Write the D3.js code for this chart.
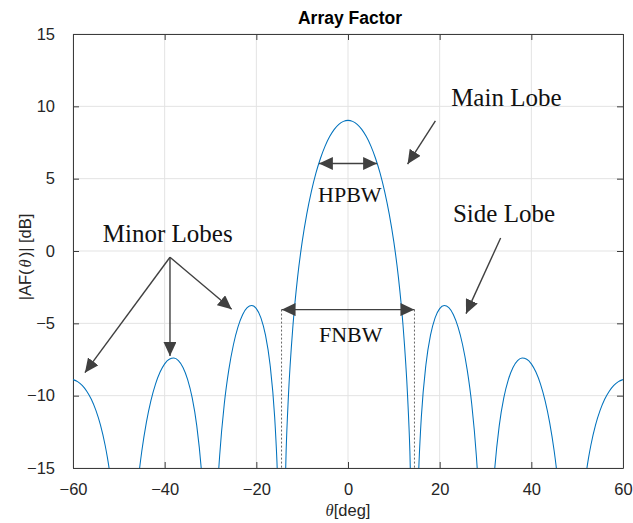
<!DOCTYPE html>
<html>
<head>
<meta charset="utf-8">
<script src="https://cdn.jsdelivr.net/npm/d3@7"></script>
<style>
  html, body { margin: 0; padding: 0; background: #fff; }
  svg { display: block; }
</style>
</head>
<body>
<svg id="chart" width="633" height="523"></svg>
<script>
// Array factor pattern, dB versus steering angle; null marks a pattern null (-inf dB)
const thetaDeg = [
  -60, -59, -58, -57, -56, -55, -54, -53, -52.5, -52, -51, -50, -48.59,
  -47, -46, -45.5, -45, -44, -43, -42, -41, -40, -39, -38, -37, -36, -35, -34, -33, -32, -31.5, -31, -30,
  -29, -28.5, -28, -27, -26, -25, -24, -23, -22, -21, -20, -19, -18, -17, -16, -15.5, -15.4, -14.48,
  -14, -13.5, -13, -12, -11, -10, -9, -8, -7, -6, -5, -4, -3, -2, -1, 0,
  1, 2, 3, 4, 5, 6, 7, 8, 9, 10, 11, 12, 13, 13.5, 14,
  14.48, 15.4, 15.5, 16, 17, 18, 19, 20, 21, 22, 23, 24, 25, 26, 27, 28, 28.5, 29,
  30, 31, 31.5, 32, 33, 34, 35, 36, 37, 38, 39, 40, 41, 42, 43, 44, 45, 45.5, 46, 47,
  48.59, 50, 51, 52, 52.5, 53, 54, 55, 56, 57, 58, 59, 60
];
const afDb = [
  -8.89, -9.03, -9.29, -9.69, -10.25, -11.02, -12.04, -13.41, -14.27, -15.29, -17.99, -22.4, null,
  -20.9, -16.61, -15.11, -13.86, -11.86, -10.34, -9.20, -8.37, -7.80, -7.48, -7.40, -7.58, -8.05, -8.87, -10.14, -12.07, -15.11, -17.4, -20.7, null,
  -20.2, -16.65, -14.14, -10.59, -8.20, -6.48, -5.25, -4.41, -3.92, -3.77, -3.98, -4.62, -5.82, -7.86, -11.48, -14.59, -15.41, null,
  -20.3, -13.83, -10.03, -5.12, -1.82, 0.63, 2.55, 4.11, 5.38, 6.41, 7.25, 7.91, 8.41, 8.76, 8.96, 9.03,
  8.96, 8.76, 8.41, 7.91, 7.25, 6.41, 5.38, 4.11, 2.55, 0.63, -1.82, -5.12, -10.03, -13.83, -20.3,
  null, -15.41, -14.59, -11.48, -7.86, -5.82, -4.62, -3.98, -3.77, -3.92, -4.41, -5.25, -6.48, -8.20, -10.59, -14.14, -16.65, -20.2,
  null, -20.7, -17.4, -15.11, -12.07, -10.14, -8.87, -8.05, -7.58, -7.40, -7.48, -7.80, -8.37, -9.20, -10.34, -11.86, -13.86, -15.11, -16.61, -20.9,
  null, -22.4, -17.99, -15.29, -14.27, -13.41, -12.04, -11.02, -10.25, -9.69, -9.29, -9.03, -8.89
];

const xTicks = [-60, -40, -20, 0, 20, 40, 60];
const yTicks = [-15, -10, -5, 0, 5, 10, 15];

// Beamwidth markers (deg, dB)
const hpbw = { half: 6.35, level: 6.05 };
const fnbw = { half: 14.5, level: -4.05 };

// Callout labels and pointer arrows, in axis units
const calloutText = [
  { text: "Main Lobe",   at: [22.5, 10.04], size: 25, anchor: "start" },
  { text: "Side Lobe",   at: [22.9, 2.03],  size: 25, anchor: "start" },
  { text: "Minor Lobes", at: [-53.5, 0.64], size: 25, anchor: "start" },
  { text: "HPBW",        at: [0.4, 3.41],   size: 22, anchor: "middle" },
  { text: "FNBW",        at: [0.6, -6.29],  size: 22, anchor: "middle" }
];
const pointers = [
  { from: [19.07, 8.99],  to: [13.0, 6.01] },
  { from: [33.3, 0.90],   to: [25.75, -4.33] },
  { from: [-38.84, -0.43], to: [-57.4, -8.41] },
  { from: [-38.84, -0.43], to: [-38.84, -7.26] },
  { from: [-38.84, -0.43], to: [-25.38, -4.03] }
];

const svg = d3.select("#chart");
const plot = { left: 73, right: 623, top: 34, bottom: 468 };

const x = d3.scaleLinear().domain([-60, 60]).range([plot.left, plot.right]);
const y = d3.scaleLinear().domain([-15, 15]).range([plot.bottom, plot.top]);

const axisColor = "#3c3c3c";
const labelColor = "#262626";
const annColor = "#404040";
const sans = "'Liberation Sans', Arial, sans-serif";
const serif = "'Liberation Serif', 'Times New Roman', serif";

const defs = svg.append("defs");
defs.append("clipPath").attr("id", "plotClip")
  .append("rect")
  .attr("x", plot.left).attr("y", plot.top)
  .attr("width", plot.right - plot.left).attr("height", plot.bottom - plot.top);
defs.append("marker")
  .attr("id", "head")
  .attr("viewBox", "0 0 14 13")
  .attr("refX", 14).attr("refY", 6.5)
  .attr("markerWidth", 14).attr("markerHeight", 13)
  .attr("markerUnits", "userSpaceOnUse")
  .attr("orient", "auto-start-reverse")
  .append("path")
  .attr("d", "M0,0 L14,6.5 L0,13 Z")
  .attr("fill", annColor);

// grid
const grid = svg.append("g").attr("stroke", "#e3e3e3").attr("stroke-width", 1);
grid.selectAll(".gx").data(xTicks).join("line")
  .attr("x1", d => x(d)).attr("x2", d => x(d))
  .attr("y1", plot.top).attr("y2", plot.bottom);
grid.selectAll(".gy").data(yTicks).join("line")
  .attr("x1", plot.left).attr("x2", plot.right)
  .attr("y1", d => y(d)).attr("y2", d => y(d));

// axes: ticks point inward on all four sides
function styleAxis(g) {
  g.select(".domain").attr("stroke", axisColor);
  g.selectAll(".tick line").attr("stroke", axisColor);
  g.selectAll(".tick text").attr("fill", labelColor)
    .attr("font-family", sans).attr("font-size", "16.5px");
}
svg.append("g").attr("transform", `translate(0,${plot.bottom})`)
  .call(d3.axisBottom(x).tickValues(xTicks).tickSize(-6).tickSizeOuter(0).tickPadding(15))
  .call(styleAxis);
svg.append("g").attr("transform", `translate(${plot.left},0)`)
  .call(d3.axisLeft(y).tickValues(yTicks).tickSize(-6).tickSizeOuter(0).tickPadding(18))
  .call(styleAxis);
svg.append("g").attr("transform", `translate(0,${plot.top})`)
  .call(d3.axisTop(x).tickValues(xTicks).tickSize(-6).tickSizeOuter(0).tickFormat(""))
  .call(styleAxis);
svg.append("g").attr("transform", `translate(${plot.right},0)`)
  .call(d3.axisRight(y).tickValues(yTicks).tickSize(-6).tickSizeOuter(0).tickFormat(""))
  .call(styleAxis);

// pattern curve
const pts = thetaDeg.map((t, i) => ({ t, v: afDb[i] }));
const line = d3.line()
  .defined(d => d.v !== null)
  .x(d => x(d.t)).y(d => y(d.v))
  .curve(d3.curveMonotoneX);
svg.append("path")
  .datum(pts)
  .attr("clip-path", "url(#plotClip)")
  .attr("fill", "none")
  .attr("stroke", "#0072BD")
  .attr("stroke-width", 1.05)
  .attr("d", line);

// FNBW guide lines
svg.append("g").selectAll("line").data([-fnbw.half, fnbw.half]).join("line")
  .attr("x1", d => x(d)).attr("x2", d => x(d))
  .attr("y1", y(fnbw.level)).attr("y2", y(-15))
  .attr("stroke", "#555").attr("stroke-width", 0.9)
  .attr("stroke-dasharray", "2,2");

// double arrows for beamwidths
svg.append("g").selectAll("line").data([hpbw, fnbw]).join("line")
  .attr("x1", d => x(-d.half)).attr("x2", d => x(d.half))
  .attr("y1", d => y(d.level)).attr("y2", d => y(d.level))
  .attr("stroke", annColor).attr("stroke-width", 1.4)
  .attr("marker-start", "url(#head)").attr("marker-end", "url(#head)");

// pointer arrows
svg.append("g").selectAll("line").data(pointers).join("line")
  .attr("x1", d => x(d.from[0])).attr("y1", d => y(d.from[1]))
  .attr("x2", d => x(d.to[0])).attr("y2", d => y(d.to[1]))
  .attr("stroke", annColor).attr("stroke-width", 1.4)
  .attr("marker-end", "url(#head)");

// callout text
svg.append("g").selectAll("text").data(calloutText).join("text")
  .attr("x", d => x(d.at[0])).attr("y", d => y(d.at[1]))
  .attr("text-anchor", d => d.anchor)
  .attr("font-family", serif)
  .attr("font-size", d => d.size + "px")
  .attr("fill", "#111")
  .text(d => d.text);

// title
svg.append("text")
  .attr("x", 350).attr("y", 24)
  .attr("text-anchor", "middle")
  .attr("font-family", sans).attr("font-weight", "bold").attr("font-size", "17.5px")
  .attr("fill", "#000")
  .text("Array Factor");

// x label
const xl = svg.append("text")
  .attr("x", (plot.left + plot.right) / 2).attr("y", 516)
  .attr("text-anchor", "middle")
  .attr("font-family", sans).attr("font-size", "16.5px").attr("fill", labelColor);
xl.append("tspan").attr("font-family", serif).attr("font-style", "italic").text("θ");
xl.append("tspan").text("[deg]");

// y label
const yl = svg.append("text")
  .attr("transform", "translate(31,257) rotate(-90)")
  .attr("text-anchor", "middle")
  .attr("font-family", sans).attr("font-size", "16.5px").attr("fill", labelColor);
yl.append("tspan").text("|AF(");
yl.append("tspan").attr("font-family", serif).attr("font-style", "italic").attr("dx", "2").text("θ");
yl.append("tspan").attr("dx", "2").text(")| [dB]");
</script>
</body>
</html>
